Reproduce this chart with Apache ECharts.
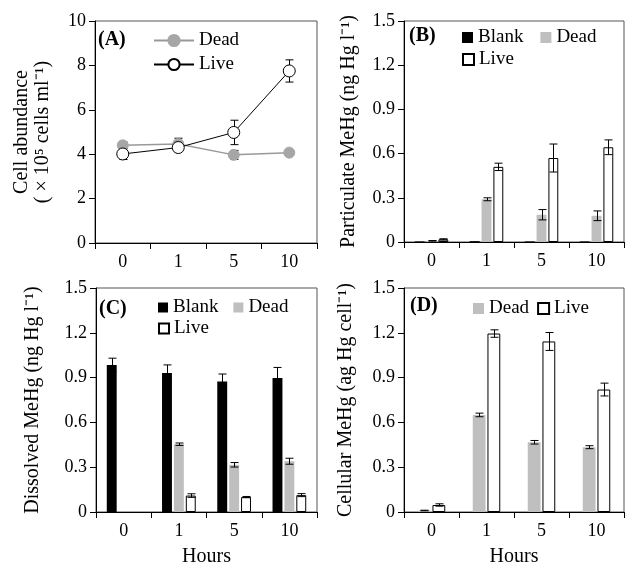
<!DOCTYPE html>
<html>
<head>
<meta charset="utf-8">
<script src="https://cdn.jsdelivr.net/npm/echarts@6/dist/echarts.min.js"></script>
<style>
html,body{margin:0;padding:0;background:#fff;}
#chart{width:625px;height:568px;}
</style>
</head>
<body>
<div id="chart"></div>
<script>
// ---- data ----
const hours = ['0', '1', '5', '10'];
const cellTicks = [0, 2, 4, 6, 8, 10];
const mehgTicks = [0, 0.3, 0.6, 0.9, 1.2, 1.5];

// (A) Cell abundance (x10^5 cells/ml)
const cellDead = [4.40, 4.46, 3.97, 4.07];
const cellDeadErr = [0.15, 0.26, 0.20, 0.08];
const cellLive = [4.01, 4.30, 4.98, 7.75];
const cellLiveErr = [0.25, 0.10, 0.55, 0.50];

// (B) Particulate MeHg
const partBlank = [0.004, 0.006, 0.004, 0.004];
const partBlankErr = [0, 0, 0, 0];
const partDead = [0.008, 0.290, 0.185, 0.178];
const partDeadErr = [0.002, 0.010, 0.035, 0.033];
const partLive = [0.018, 0.510, 0.570, 0.643];
const partLiveErr = [0.004, 0.025, 0.095, 0.050];

// (C) Dissolved MeHg
const dissBlank = [0.985, 0.930, 0.874, 0.898];
const dissBlankErr = [0.045, 0.055, 0.050, 0.070];
const dissDead = [null, 0.454, 0.316, 0.340];
const dissDeadErr = [null, 0.008, 0.015, 0.020];
const dissLive = [null, 0.110, 0.100, 0.113];
const dissLiveErr = [null, 0.012, 0.004, 0.010];

// (D) Cellular MeHg
const cellHgDead = [0.010, 0.650, 0.467, 0.434];
const cellHgDeadErr = [0.002, 0.012, 0.012, 0.010];
const cellHgLive = [0.047, 1.195, 1.142, 0.820];
const cellHgLiveErr = [0.008, 0.025, 0.060, 0.043];

// ---- styling ----
const FONT = 'Liberation Serif';
const BLACK = '#000';
const DEAD_BAR = '#bfbfbf';
const DEAD_PT = '#a6a6a6';

function xAxisFor(gi, withName) {
  const ax = {
    type: 'category', gridIndex: gi, data: hours,
    axisLine: {lineStyle: {color: BLACK, width: 1}},
    axisTick: {show: true, length: 6, inside: false, lineStyle: {color: BLACK}},
    axisLabel: {fontSize: 18, fontFamily: FONT, color: BLACK, margin: 10},
    splitLine: {show: false}
  };
  if (withName) {
    ax.name = 'Hours';
    ax.nameLocation = 'middle';
    ax.nameGap = 35;
    ax.nameTextStyle = {fontSize: 20, fontFamily: FONT, color: BLACK};
  }
  return ax;
}
function yAxisFor(gi, ticks, name, gap) {
  return {
    type: 'value', gridIndex: gi,
    min: ticks[0], max: ticks[ticks.length - 1], interval: ticks[1] - ticks[0],
    axisLine: {show: true, lineStyle: {color: BLACK, width: 1}},
    axisTick: {show: true, length: 6, lineStyle: {color: BLACK}},
    axisLabel: {fontSize: 18, fontFamily: FONT, color: BLACK, margin: 9},
    splitLine: {show: false},
    name: name, nameLocation: 'middle', nameGap: gap,
    nameTextStyle: {fontSize: 20, fontFamily: FONT, color: BLACK, lineHeight: 21}
  };
}
function errSeries(ai, vals, errs, slot, n, catGap, barGap, z) {
  const data = [];
  vals.forEach((v, i) => { if (v !== null && errs[i] !== null) data.push([i, v, errs[i]]); });
  return {
    type: 'custom', xAxisIndex: ai, yAxisIndex: ai, z: z, silent: true,
    encode: {x: 0, y: 1},
    data: data,
    renderItem: function (params, api) {
      const ci = api.value(0), v = api.value(1), e = api.value(2);
      const c = api.coord([ci, v]);
      const band = api.size([1, 0])[0];
      let off = 0;
      if (n > 1) {
        const bw = band * (1 - catGap) / (n + (n - 1) * barGap);
        off = (slot - (n - 1) / 2) * bw * (1 + barGap);
      }
      const x = Math.round(c[0] + off) + 0.5;
      const top = api.coord([ci, v + e])[1];
      const bot = api.coord([ci, Math.max(v - e, 0)])[1];
      const hw = 4;
      const st = {stroke: BLACK, lineWidth: 1};
      return {type: 'group', children: [
        {type: 'line', shape: {x1: x, y1: top, x2: x, y2: bot}, style: st},
        {type: 'line', shape: {x1: x - hw, y1: top, x2: x + hw, y2: top}, style: st},
        {type: 'line', shape: {x1: x - hw, y1: bot, x2: x + hw, y2: bot}, style: st}
      ]};
    }
  };
}
function barSeries(name, ai, vals, kind, catGap, barGap) {
  const s = {
    name: name, type: 'bar', xAxisIndex: ai, yAxisIndex: ai, data: vals, z: 2,
    barCategoryGap: catGap, barGap: barGap
  };
  if (kind === 'blank') s.itemStyle = {color: BLACK};
  else if (kind === 'dead') s.itemStyle = {color: DEAD_BAR};
  else s.itemStyle = {color: '#fff', borderColor: BLACK, borderWidth: 1};
  return s;
}
const fmt = function (name) { return name.split('-')[1]; };
const legendText = {fontSize: 19, fontFamily: FONT, color: BLACK};
function panelTitle(t, left, top) {
  return {text: t, left: left, top: top, padding: 0,
    textStyle: {fontSize: 20, fontWeight: 'bold', fontFamily: FONT, color: BLACK}};
}
function legendFor(names, left, top, extra) {
  return Object.assign({orient: 'horizontal', left: left, top: top, padding: 0,
    itemWidth: 11, itemHeight: 11, icon: 'rect', data: names, formatter: fmt,
    textStyle: legendText, selectedMode: false}, extra || {});
}

const gridBase = {show: true, borderColor: '#555', borderWidth: 1, backgroundColor: 'transparent', containLabel: false};

const option = {
  animation: false,
  backgroundColor: '#fff',
  textStyle: {fontFamily: FONT, color: BLACK},
  title: [
    panelTitle('(A)', 98, 30),
    panelTitle('(B)', 409, 26),
    panelTitle('(C)', 99, 299),
    panelTitle('(D)', 410, 296)
  ],
  grid: [
    Object.assign({left: 95, top: 21, width: 222, height: 222}, gridBase),
    Object.assign({left: 404, top: 21, width: 220, height: 221}, gridBase),
    Object.assign({left: 96, top: 288, width: 221, height: 226}, gridBase),
    Object.assign({left: 404, top: 288, width: 220, height: 226}, gridBase)
  ],
  xAxis: [xAxisFor(0, false), xAxisFor(1, false), xAxisFor(2, true), xAxisFor(3, true)],
  yAxis: [
    yAxisFor(0, cellTicks, 'Cell abundance\n( \u00d7 10\u2075 cells ml\u207b\u00b9)', 42),
    yAxisFor(1, mehgTicks, 'Particulate MeHg (ng Hg l\u207b\u00b9)', 45),
    yAxisFor(2, mehgTicks, 'Dissolved MeHg (ng Hg l\u207b\u00b9)', 53),
    yAxisFor(3, mehgTicks, 'Cellular MeHg (ag Hg cell\u207b\u00b9)', 48)
  ],
  legend: [
    {orient: 'vertical', left: 153, top: 31, padding: 0, itemWidth: 40, itemHeight: 14, itemGap: 5,
      data: ['A-Dead', 'A-Live'], formatter: fmt, textStyle: legendText, selectedMode: false},
    legendFor(['B-Blank', 'B-Dead'], 462, 28, {itemGap: 17}),
    legendFor(['B-Live'], 462, 50),
    legendFor(['C-Blank', 'C-Dead'], 158, 298, {itemWidth: 10, itemHeight: 10, itemGap: 15}),
    legendFor(['C-Live'], 158, 319, {itemWidth: 10, itemHeight: 10}),
    legendFor(['D-Dead', 'D-Live'], 473, 299, {itemGap: 8})
  ],
  series: [
    // (A)
    errSeries(0, cellDead, cellDeadErr, 0, 1, 0, 0, 1),
    errSeries(0, cellLive, cellLiveErr, 0, 1, 0, 0, 1),
    {name: 'A-Dead', type: 'line', xAxisIndex: 0, yAxisIndex: 0, data: cellDead, z: 2,
      symbol: 'circle', symbolSize: 11,
      lineStyle: {color: '#999', width: 1.5},
      itemStyle: {color: DEAD_PT, borderColor: DEAD_PT, borderWidth: 1}},
    {name: 'A-Live', type: 'line', xAxisIndex: 0, yAxisIndex: 0, data: cellLive, z: 3,
      symbol: 'circle', symbolSize: 12,
      lineStyle: {color: BLACK, width: 1},
      itemStyle: {color: '#fff', borderColor: BLACK, borderWidth: 1}},
    // (B)
    barSeries('B-Blank', 1, partBlank, 'blank', '39%', '20%'),
    barSeries('B-Dead', 1, partDead, 'dead', '39%', '20%'),
    barSeries('B-Live', 1, partLive, 'live', '39%', '20%'),
    errSeries(1, partDead, partDeadErr, 1, 3, 0.39, 0.2, 5),
    errSeries(1, partLive, partLiveErr, 2, 3, 0.39, 0.2, 5),
    // (C)
    barSeries('C-Blank', 2, dissBlank, 'blank', '39%', '20%'),
    barSeries('C-Dead', 2, dissDead, 'dead', '39%', '20%'),
    barSeries('C-Live', 2, dissLive, 'live', '39%', '20%'),
    errSeries(2, dissBlank, dissBlankErr, 0, 3, 0.39, 0.2, 5),
    errSeries(2, dissDead, dissDeadErr, 1, 3, 0.39, 0.2, 5),
    errSeries(2, dissLive, dissLiveErr, 2, 3, 0.39, 0.2, 5),
    // (D)
    barSeries('D-Dead', 3, cellHgDead, 'dead', '50%', '15%'),
    barSeries('D-Live', 3, cellHgLive, 'live', '50%', '15%'),
    errSeries(3, cellHgDead, cellHgDeadErr, 0, 2, 0.5, 0.15, 5),
    errSeries(3, cellHgLive, cellHgLiveErr, 1, 2, 0.5, 0.15, 5)
  ]
};

const chart = echarts.init(document.getElementById('chart'), null, {renderer: 'canvas'});
chart.setOption(option);
</script>
</body>
</html>
